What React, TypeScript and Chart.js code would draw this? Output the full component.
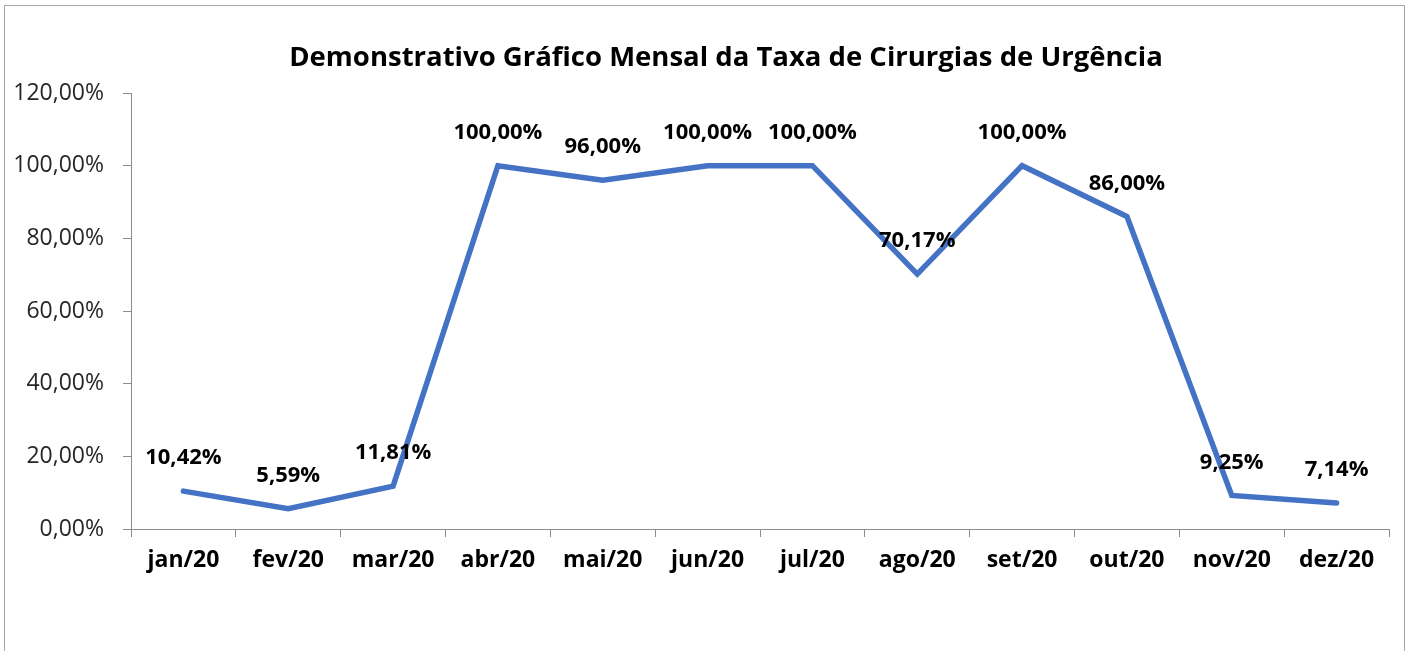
import React, { useEffect, useRef } from "react";
import { Chart, registerables } from "chart.js";

Chart.register(...registerables);

const TITLE = "Demonstrativo Gráfico Mensal da Taxa de Cirurgias de Urgência";
const months = ["jan/20", "fev/20", "mar/20", "abr/20", "mai/20", "jun/20", "jul/20", "ago/20", "set/20", "out/20", "nov/20", "dez/20"];
const rates = [10.42, 5.59, 11.81, 100, 96, 100, 100, 70.17, 100, 86, 9.25, 7.14];
const yMin = 0;
const yMax = 120;
const yStep = 20;

const fmt = (v: number) => v.toFixed(2).replace(".", ",") + "%";
const FONT = "'Open Sans', 'Noto Sans', sans-serif";
const AXIS_COLOR = "#8c8c8c";

const titlePlugin = {
  id: "fixedTitle",
  afterDraw(chart: any) {
    const ctx = chart.ctx;
    ctx.save();
    ctx.font = `bold 27.5px ${FONT}`;
    ctx.fillStyle = "#000";
    ctx.textAlign = "center";
    ctx.textBaseline = "middle";
    ctx.fillText(TITLE, 726, 58);
    ctx.restore();
  },
};

const dataLabelPlugin = {
  id: "dataLabels",
  afterDatasetsDraw(chart: any) {
    const ctx = chart.ctx;
    const meta = chart.getDatasetMeta(0);
    ctx.save();
    ctx.font = `bold 22px ${FONT}`;
    ctx.fillStyle = "#000";
    ctx.textAlign = "center";
    ctx.textBaseline = "middle";
    meta.data.forEach((pt: any, i: number) => {
      const v = chart.data.datasets[0].data[i];
      ctx.fillText(fmt(v), pt.x, pt.y - 33);
    });
    ctx.restore();
  },
};

export default function App() {
  const ref = useRef<HTMLCanvasElement>(null);
  useEffect(() => {
    if (!ref.current) return;
    const chart = new Chart(ref.current, {
      type: "line",
      data: {
        labels: months,
        datasets: [
          {
            data: rates,
            borderColor: "#4472C4",
            borderWidth: 5.5,
            borderCapStyle: "round",
            borderJoinStyle: "miter",
            pointRadius: 0,
            tension: 0,
            fill: false,
          },
        ],
      },
      options: {
        responsive: false,
        animation: false,
        layout: { padding: { top: 93, left: 0, right: 22, bottom: 72 } },
        plugins: {
          legend: { display: false },
          title: { display: false },
          tooltip: { enabled: false },
        },
        scales: {
          x: {
            offset: true,
            afterFit: (s: any) => {
              s.height = 50;
            },
            grid: {
              offset: true,
              drawOnChartArea: false,
              drawTicks: true,
              tickLength: 8,
              color: AXIS_COLOR,
            },
            border: { color: AXIS_COLOR, width: 1 },
            ticks: {
              font: { family: FONT, size: 23, weight: "bold" },
              color: "#000",
              padding: 10,
              maxRotation: 0,
              autoSkip: false,
            },
          },
          y: {
            min: yMin,
            max: yMax,
            afterFit: (s: any) => {
              s.width = 131;
            },
            grid: {
              drawOnChartArea: false,
              drawTicks: true,
              tickLength: 8,
              color: AXIS_COLOR,
            },
            border: { color: AXIS_COLOR, width: 1 },
            ticks: {
              stepSize: yStep,
              font: { family: FONT, size: 23 },
              color: "#262626",
              padding: 19,
              callback: (v: any) => fmt(Number(v)),
            },
          },
        },
      },
      plugins: [titlePlugin, dataLabelPlugin],
    });
    return () => chart.destroy();
  }, []);

  return (
    <div style={{ position: "absolute", left: 0, top: 0, width: 1411, height: 651, background: "#fff", overflow: "hidden" }}>
      <div
        style={{
          position: "absolute",
          left: 4,
          top: 5,
          width: 1401,
          height: 700,
          border: "1px solid #a6a6a6",
          boxSizing: "border-box",
        }}
      />
      <canvas ref={ref} width={1411} height={651} style={{ position: "absolute", left: 0, top: 0 }} />
    </div>
  );
}
